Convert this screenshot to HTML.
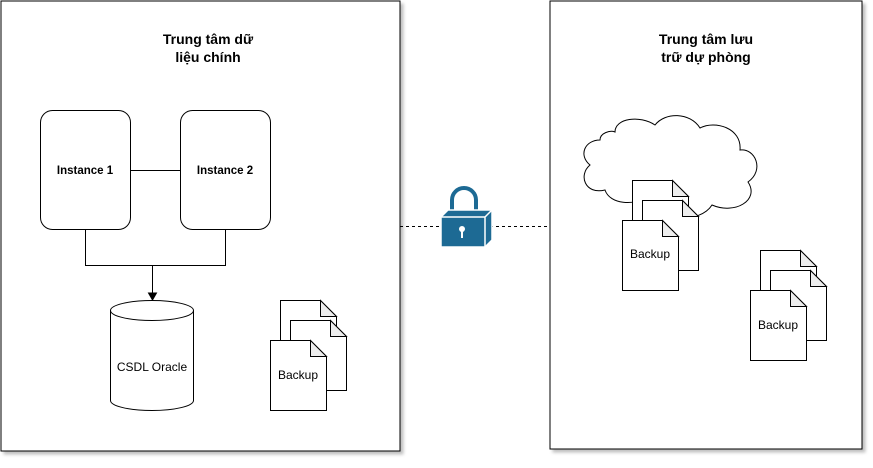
<!DOCTYPE html>
<html><head><meta charset="utf-8"><style>
body{margin:0;background:#fff;}
svg text{font-family:"Liberation Sans",Arial,sans-serif;}
</style></head><body>
<svg width="873" height="463" viewBox="0 0 873 463" xmlns="http://www.w3.org/2000/svg">
<defs>
<filter id="sh" x="-5%" y="-5%" width="110%" height="110%"><feDropShadow dx="3" dy="3" stdDeviation="1.5" flood-color="#000" flood-opacity="0.25"/></filter>
<g id="doc">
<path d="M0.5,0.5 H40.5 L56.5,16.5 V70.5 H0.5 Z" fill="#fff" stroke="#000"/>
<path d="M40.5,0.5 V16.5 H56.5 Z" fill="#eee" stroke="#000"/>
</g>
</defs>
<rect x="1" y="1" width="399" height="450" fill="#fff" stroke="#000" filter="url(#sh)"/>
<rect x="550" y="1" width="312" height="448" fill="#fff" stroke="#000" filter="url(#sh)"/>
<text x="208" y="44" text-anchor="middle" font-size="14" font-weight="bold">Trung tâm dữ</text>
<text x="208" y="62" text-anchor="middle" font-size="14" font-weight="bold">liệu chính</text>
<text x="706" y="44" text-anchor="middle" font-size="14" font-weight="bold">Trung tâm lưu</text>
<text x="706" y="62" text-anchor="middle" font-size="14" font-weight="bold">trữ dự phòng</text>
<rect x="40.5" y="110.5" width="90" height="119" rx="12" fill="#fff" stroke="#000"/>
<rect x="180.5" y="110.5" width="90" height="119" rx="12" fill="#fff" stroke="#000"/>
<text x="85" y="174" text-anchor="middle" font-size="11.5" font-weight="bold">Instance 1</text>
<text x="225" y="174" text-anchor="middle" font-size="11.5" font-weight="bold">Instance 2</text>
<path d="M130.5,170.5 H180.5 M85.5,229.5 V265.5 H225.5 V229.5 M152.5,265.5 V294" fill="none" stroke="#000"/>
<path d="M148.5,293 L152.5,300 L156.5,293 Z" fill="#000" stroke="#000"/>
<path d="M110.5,310.5 V400.5 A41.5,10 0 0 0 193.5,400.5 V310.5" fill="#fff" stroke="#000"/>
<ellipse cx="152" cy="310.5" rx="41.5" ry="10" fill="#fff" stroke="#000"/>
<text x="152" y="371" text-anchor="middle" font-size="12">CSDL Oracle</text>
<use href="#doc" x="280" y="300"/><use href="#doc" x="290" y="320"/><use href="#doc" x="270" y="340"/>
<text x="298" y="379" text-anchor="middle" font-size="12">Backup</text>
<path d="M400,226.5 H550" stroke="#000" stroke-dasharray="3,3"/>
<g>
<path d="M452,212 V200 A12,12 0 0 1 476,200 V212" fill="none" stroke="#fff" stroke-width="8"/>
<path d="M452,212 V200 A12,12 0 0 1 476,200 V212" fill="none" stroke="#1d6a94" stroke-width="4"/>
<path d="M441,217 L448,210 H492 V240 L485,247 H441 Z" fill="#1d6a94" stroke="#fff" stroke-width="1.5"/>
<path d="M441,217 H485 V247 M485,217 L492,210" fill="none" stroke="#fff" stroke-width="1.5"/>
<circle cx="462" cy="229" r="3" fill="#fff"/><rect x="461" y="229" width="2" height="9" fill="#fff"/>
</g>
<path d="M600,140 C585,140 578,155 590,165 C578,175 585,195 605,190 C610,205 635,205 645,198 C660,222 700,224 712,205 C735,215 760,200 748,182 C765,170 755,148 740,150 C742,128 715,120 700,128 C690,112 665,112 655,125 C640,115 615,118 615,132 C610,130 600,133 600,140 Z" fill="#fff" stroke="#000"/>
<use href="#doc" x="632" y="180"/><use href="#doc" x="642" y="200"/><use href="#doc" x="622" y="220"/>
<text x="650" y="258" text-anchor="middle" font-size="12">Backup</text>
<use href="#doc" x="760" y="250"/><use href="#doc" x="770" y="270"/><use href="#doc" x="750" y="290"/>
<text x="778" y="329" text-anchor="middle" font-size="12">Backup</text>
</svg>
</body></html>
